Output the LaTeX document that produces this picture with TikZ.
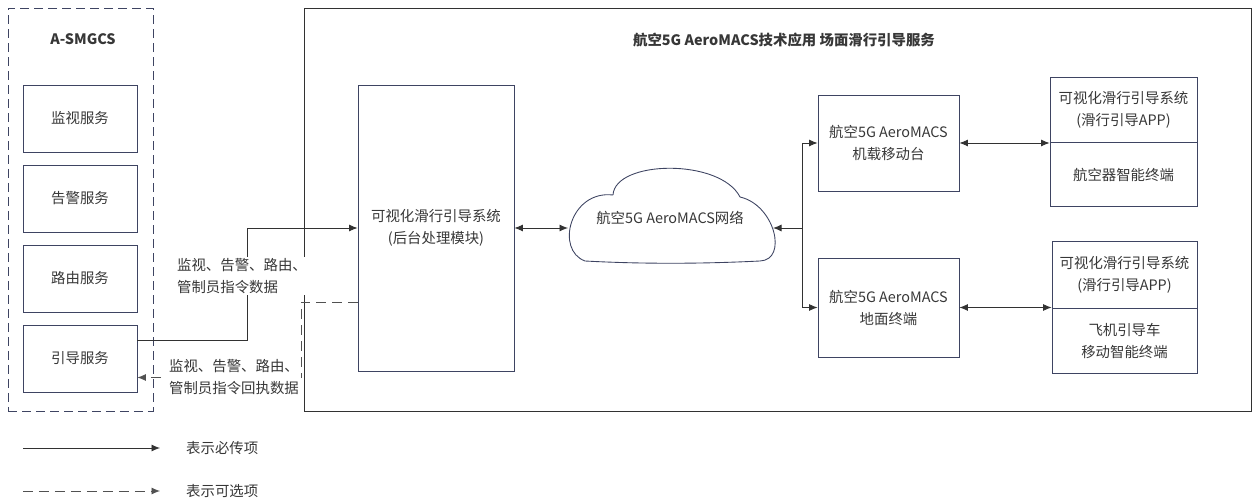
\documentclass[tikz,border=0pt]{standalone}
\usepackage{fontspec}
\setmainfont{Noto Sans CJK SC}
\usepackage{xcolor}
\usepackage{tikz}
\usetikzlibrary{arrows.meta, positioning, calc}
\tikzstyle{arrow} = [line width=0.5pt, draw=wire, ->, >={Latex[length=1.7mm,width=1.4mm]}]

\definecolor{boxline}{RGB}{62,68,98}
\definecolor{wire}{RGB}{50,50,50}
\definecolor{txt}{RGB}{55,55,55}

\begin{document}
\begin{tikzpicture}[x=0.02cm, y=-0.02cm, font=\fontsize{8.2}{12.5}\selectfont, text=txt]
	% Define styles for the boxes and labels
	\tikzstyle{group} = [rectangle, draw=boxline, line width=0.5pt, dash pattern=on 0.18cm off 0.1cm, inner sep=0pt]
	\tikzstyle{frame} = [rectangle, draw=wire, line width=0.5pt, inner sep=0pt]
	\tikzstyle{service} = [rectangle, draw=boxline, line width=0.5pt, minimum width=2.28cm, minimum height=1.34cm, align=center]
	\tikzstyle{module} = [rectangle, draw=boxline, line width=0.5pt, align=center]
	\tikzstyle{datalabel} = [fill=white, align=left, inner sep=1pt]
	\tikzstyle{title} = [font=\fontsize{8.2}{12.5}\selectfont\bfseries]
	\tikzstyle{optional} = [arrow, draw=wire!85, dash pattern=on 0.2cm off 0.12cm]

	\useasboundingbox (0,0) rectangle (1253,499);

	% A-SMGCS side
	\node[group, minimum width=2.9cm, minimum height=8.06cm] (asmgcs) at (80.5,209.5) {};
	\node[title] (asmgcstitle) at (83,39) {A-SMGCS};
	\node[service] (monitor) at (80,118.5) {监视服务};
	\node[service] (alert) at (80,198.5) {告警服务};
	\node[service] (route) at (80,278.5) {路由服务};
	\node[service] (guide) at (80,358.5) {引导服务};

	% AeroMACS application side
	\node[frame, minimum width=18.96cm, minimum height=8.06cm] (aeromacs) at (778,209.5) {};
	\node[title] (aerotitle) at (784,40) {航空5G AeroMACS技术应用 场面滑行引导服务};

	\node[module, minimum width=3.12cm, minimum height=5.72cm] (backend) at (436,228) {可视化滑行引导系统\\(后台处理模块)};

	% Network cloud
	\draw[boxline, line width=0.5pt] (613,195) .. controls (615,160) and (720,158) .. (740,197)
		.. controls (775,205) and (788,260) .. (760,261)
		.. controls (700,264) and (640,264) .. (585,261)
		.. controls (555,250) and (570,190) .. (613,195);
	\node (network) at (670,218) {航空5G AeroMACS网络};
	\coordinate (netwest) at (568,228);
	\coordinate (neteast) at (773,228);

	\node[module, minimum width=2.82cm, minimum height=1.92cm] (onboard) at (888.5,143) {航空5G AeroMACS\\机载移动台};
	\node[module, minimum width=2.82cm, minimum height=1.98cm] (ground) at (888.5,307.5) {航空5G AeroMACS\\地面终端};

	\node[module, minimum width=2.94cm, minimum height=1.3cm] (appA) at (1123.5,109.5) {可视化滑行引导系统\\(滑行引导APP)};
	\node[module, minimum width=2.94cm, minimum height=1.28cm, below=0cm of appA] (aircraft) {航空器智能终端};
	\node[module, minimum width=2.9cm, minimum height=1.34cm] (appB) at (1124.5,274.5) {可视化滑行引导系统\\(滑行引导APP)};
	\node[module, minimum width=2.9cm, minimum height=1.3cm, below=0cm of appB] (vehicle) {飞机引导车\\移动智能终端};

	% Data exchange with A-SMGCS
	\draw[arrow] ($(guide.east)+(0,-18)$) -| (247,228) -- (backend.west);
	\draw[optional] ($(backend.west)+(0,74)$) -- (301,302) |- ($(guide.east)+(0,19)$);
	\node[datalabel] (senddata) at (242,276) {监视、告警、路由、\\管制员指令数据};
	\node[datalabel] (replydata) at (234,377) {监视、告警、路由、\\管制员指令回执数据};

	% Network links
	\draw[arrow, <->] (backend.east) -- (netwest);
	\coordinate (fork) at (802,228);
	\draw[arrow] (fork) -- (neteast);
	\draw[arrow] (fork) |- (onboard.west);
	\draw[arrow] (fork) |- (ground.west);
	\draw[arrow, <->] (onboard.east) -- (onboard.east -| appA.west);
	\draw[arrow, <->] (ground.east) -- (ground.east -| appB.west);

	% Legend
	\coordinate (solidstart) at (23,448);
	\coordinate (solidend) at (160,448);
	\coordinate (dashstart) at (23,491);
	\coordinate (dashend) at (160,491);
	\draw[arrow] (solidstart) -- (solidend);
	\draw[optional] (dashstart) -- (dashend);
	\node[anchor=west] (legsolid) at (180,448) {表示必传项};
	\node[anchor=west] (legdash) at (180,491) {表示可选项};
\end{tikzpicture}
\end{document}
